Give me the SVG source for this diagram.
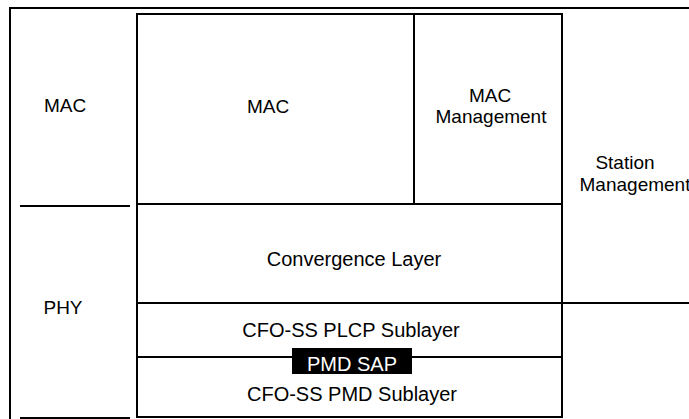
<svg xmlns="http://www.w3.org/2000/svg" width="689" height="419" viewBox="0 0 689 419">
<style>
.ln{stroke:#000;stroke-width:2;fill:none}
.t{font-family:"Liberation Sans",Arial,sans-serif;font-size:19px;fill:#000;text-anchor:middle}
.b{font-size:20px}
.w{fill:#fff}
</style>
<rect width="689" height="419" fill="#fff"/>
<g id="connectors">
<path class="ln" d="M10,419 V8 H689"/>
<path class="ln" d="M20,206 H130"/>
<path class="ln" d="M20,418 H130"/>
<path class="ln" d="M562,303 H689"/>
</g>
<g id="stack">
<rect class="ln" x="137" y="14" width="425" height="403"/>
<path class="ln" d="M414,14 V204"/>
<path class="ln" d="M137,204 H562"/>
<path class="ln" d="M137,303 H562"/>
<path class="ln" d="M137,357 H562"/>
</g>
<g id="mac-left"><text class="t" x="65" y="112">MAC</text></g>
<g id="phy-left"><text class="t" x="63" y="314">PHY</text></g>
<g id="mac"><text class="t" x="268" y="113">MAC</text></g>
<g id="mac-management"><text class="t" x="490" y="102">MAC</text><text class="t" x="491" y="123">Management</text></g>
<g id="station-management"><text class="t" x="625" y="169">Station</text><text class="t" x="635" y="191">Management</text></g>
<g id="convergence"><text class="t b" x="354" y="266">Convergence Layer</text></g>
<g id="plcp"><text class="t b" x="351" y="337">CFO-SS PLCP Sublayer</text></g>
<g id="pmd-sap"><rect x="292" y="348" width="120" height="26" fill="#000"/><text class="t b w" x="352" y="371">PMD SAP</text></g>
<g id="pmd"><text class="t b" x="352" y="401">CFO-SS PMD Sublayer</text></g>
</svg>
